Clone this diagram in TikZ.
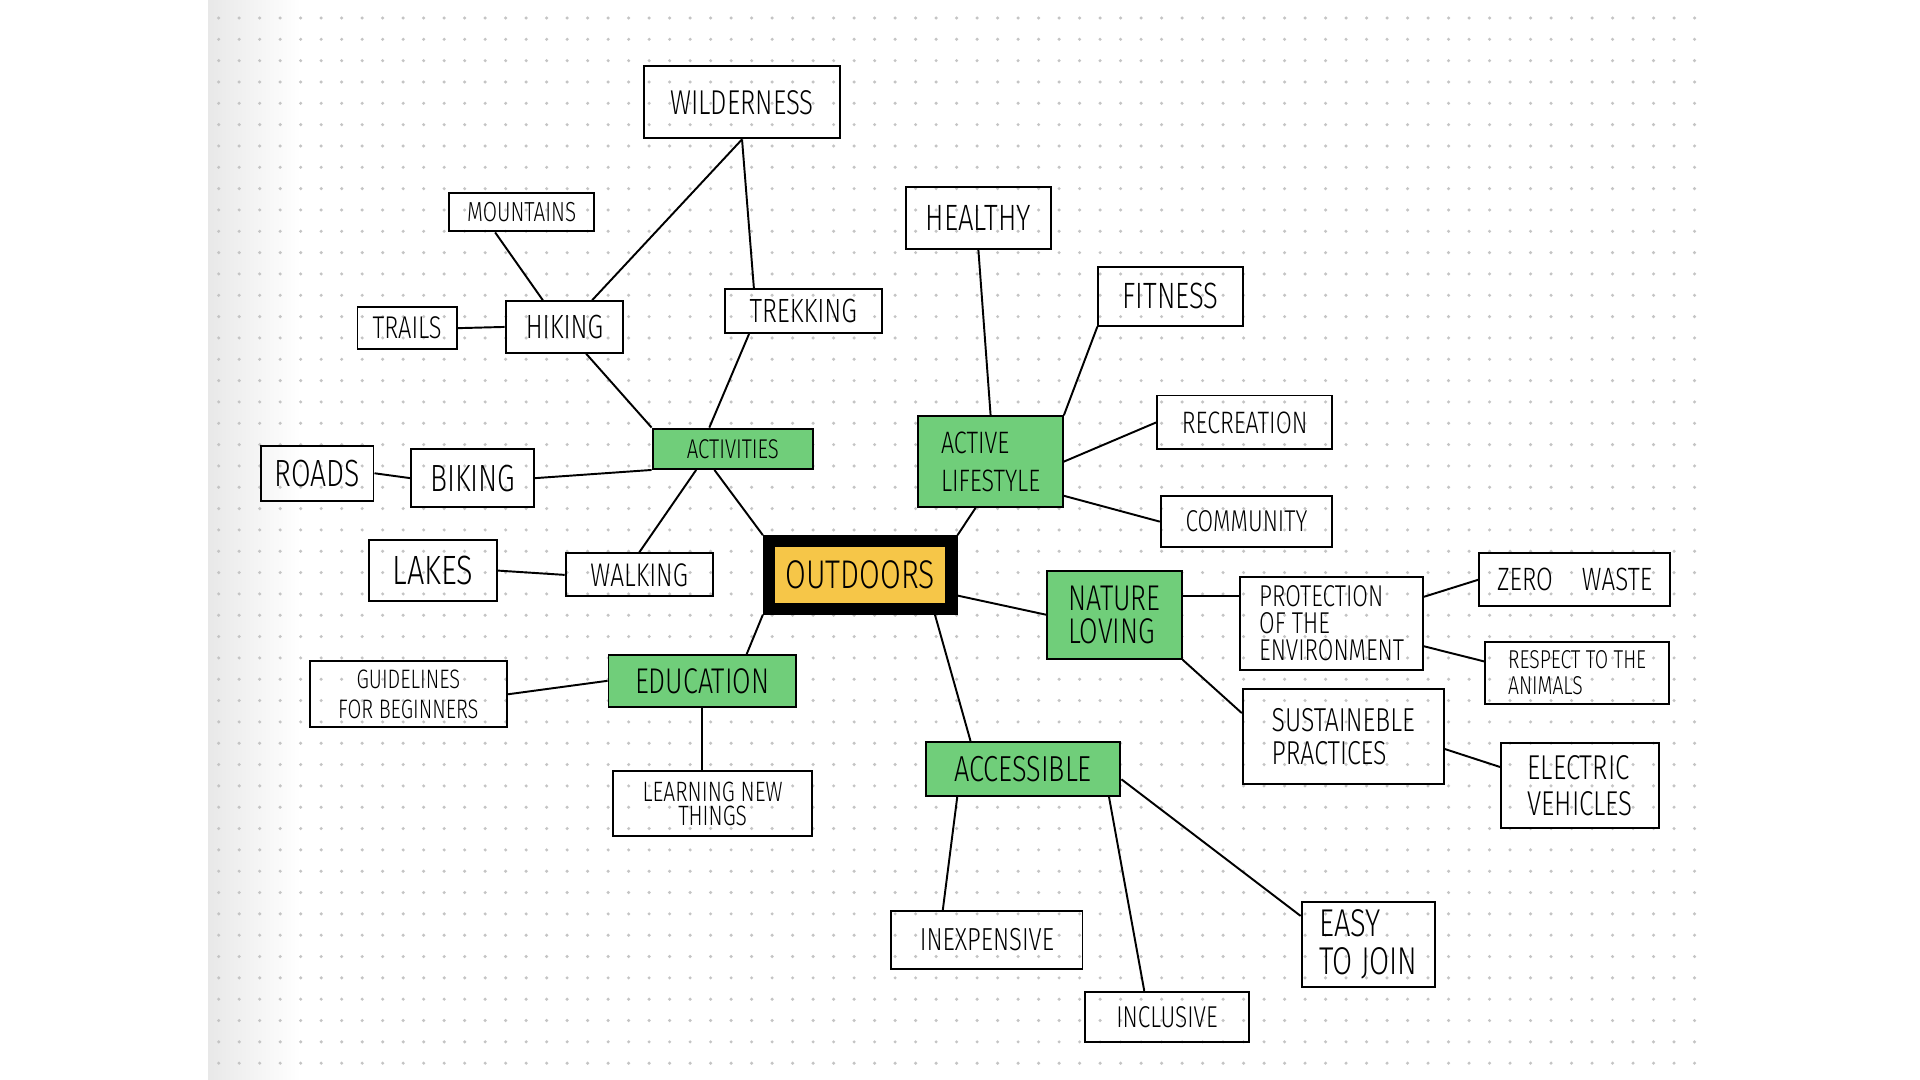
\documentclass[tikz,border=0pt]{standalone}
\usepackage{fontspec}
\usepackage{xcolor}
\usepackage{tikz}
\usetikzlibrary{calc}
\newfontfamily\hand[FakeStretch=0.75, UprightFont=* Light]{Fira Sans}

\definecolor{hlgreen}{RGB}{112,206,122}
\definecolor{hlyellow}{RGB}{246,198,72}
\definecolor{dotgray}{RGB}{196,196,196}

\begin{document}
\begin{tikzpicture}[
    x=0.01cm, y=-0.01cm,
    box/.style={
        rectangle,
        draw,
        line width=0.45pt,
        inner sep=1pt,
        text centered
    },
    hl/.style={fill=hlgreen},
    sz/.style 2 args={minimum width=#1cm, minimum height=#2cm},
    fs/.style 2 args={font=\hand\fontsize{#1}{#2}\selectfont},
    link/.style={line width=0.45pt}
]
\useasboundingbox (0,0) rectangle (1568,882);

% dotted page
\shade[left color=black!9, right color=white] (170,0) rectangle (245,882);
\foreach \i in {0,...,72}
  \foreach \j in {0,...,49}
    \fill[dotgray] (178.6+\i*16.74, 14.7+\j*17.42) circle (1.4);

% centre
\node (outdoors) [box, sz={1.49}{0.55}, fs={9.3}{10}, fill=hlyellow, line width=2.8pt] at (702.5,469.5) {OUTDOORS};

% activities branch
\node (activ) [box, hl, sz={1.31}{0.33}, fs={6.3}{7}] at (598.5,366.5) {ACTIVITIES};
\node (hiking) [box, sz={0.96}{0.42}, fs={7.8}{8}] at (461,267) {HIKING};
\node (trails) [box, sz={0.81}{0.34}, fs={7.3}{8}] at (332.5,268) {TRAILS};
\node (mount) [box, sz={1.18}{0.31}, fs={6.4}{7}] at (426,173.5) {MOUNTAINS};
\node (wild) [box, sz={1.60}{0.59}, fs={8}{9}] at (606,83.5) {WILDERNESS};
\node (trek) [box, sz={1.28}{0.36}, fs={7.8}{8}] at (656,254) {TREKKING};
\node (biking) [box, sz={1.00}{0.47}, fs={8.8}{9}] at (386,390.5) {BIKING};
\node (roads) [box, sz={0.92}{0.45}, fs={8.8}{9}] at (259,386.5) {ROADS};
\node (walking) [box, sz={1.20}{0.35}, fs={7.6}{8}] at (522,469.5) {WALKING};
\node (lakes) [box, sz={1.05}{0.50}, fs={9.5}{10}] at (353.5,466) {LAKES};

% active lifestyle branch
\node (alife) [box, hl, sz={1.18}{0.74}, fs={7.2}{8.8}, align=left] at (809,377) {ACTIVE\\LIFESTYLE};
\node (healthy) [box, sz={1.18}{0.50}, fs={8.5}{9}] at (799,178) {HEALTHY};
\node (fitness) [box, sz={1.18}{0.48}, fs={8.5}{9}] at (956,242) {FITNESS};
\node (recr) [box, sz={1.43}{0.44}, fs={7.2}{8}] at (1016.5,345) {RECREATION};
\node (comm) [box, sz={1.40}{0.42}, fs={7}{8}] at (1018,426) {COMMUNITY};

% nature loving branch
\node (nature) [box, hl, sz={1.10}{0.72}, fs={8.3}{7.7}, align=left] at (910,502) {NATURE\\LOVING};
\node (protect) [box, sz={1.49}{0.76}, fs={7}{6.2}, align=left] at (1087.5,509) {PROTECTION\\OF THE\\ENVIRONMENT};
\node (zero) [box, sz={1.56}{0.43}, fs={7.5}{8}] at (1286,473.5) {ZERO\hspace{0.9em}WASTE};
\node (respect) [box, sz={1.50}{0.51}, fs={6}{6}, align=left] at (1288,549.5) {RESPECT TO THE\\ANIMALS};
\node (sustain) [box, sz={1.64}{0.77}, fs={7.7}{7.7}, align=left] at (1097,601.5) {SUSTAINEBLE\\PRACTICES};
\node (electric) [box, sz={1.29}{0.69}, fs={8}{8.3}, align=left] at (1290.5,641.5) {ELECTRIC\\VEHICLES};

% education branch
\node (educ) [box, hl, sz={1.53}{0.42}, fs={8.3}{9}] at (573.5,556) {EDUCATION};
\node (guide) [box, sz={1.61}{0.54}, fs={6.2}{7.1}, align=center] at (333.5,567) {GUIDELINES\\FOR BEGINNERS};
\node (learn) [box, sz={1.62}{0.53}, fs={6.5}{5.6}, align=center] at (582,656.5) {LEARNING NEW\\THINGS};

% accessible branch
\node (access) [box, hl, sz={1.59}{0.44}, fs={8.4}{9}] at (835.5,628) {ACCESSIBLE};
\node (inexp) [box, sz={1.56}{0.47}, fs={7.4}{8}] at (806,767.5) {INEXPENSIVE};
\node (incl) [box, sz={1.34}{0.41}, fs={7}{8}] at (953,830.5) {INCLUSIVE};
\node (easy) [box, sz={1.09}{0.69}, fs={9}{8.8}, align=left] at (1117.5,771.5) {EASY\\TO JOIN};

% links
\draw [link] (wild.south) -- (hiking.44);
\draw [link] (wild.south) -- (trek.155);
\draw [link] (mount.217) -- (hiking.129);
\draw [link] (trails.east) -- (hiking.west);
\draw [link] (hiking.-51) -- (activ.north west);
\draw [link] (trek.203) -- (activ.138);
\draw [link] (biking.east) -- (activ.south west);
\draw [link] (roads.east) -- (biking.west);
\draw [link] (activ.-150) -- (walking.north);
\draw [link] (lakes.east) -- (walking.west);
\draw [link] (activ.-131) -- (outdoors.north west);

\draw [link] (healthy.south) -- (alife.north);
\draw [link] (fitness.south west) -- (alife.north east);
\draw [link] (recr.west) -- (alife.east);
\draw [link] (comm.west) -- (alife.-25);
\draw [link] (alife.-108) -- (outdoors.north east);

\draw [link] (outdoors.-12) -- (nature.west);
\draw [link] (nature.15) -- (nature.15 -| protect.west);
\draw [link] (nature.south east) -- (sustain.167);
\draw [link] (protect.16) -- (zero.west);
\draw [link] (protect.-14) -- (respect.173);
\draw [link] (sustain.-7) -- (electric.167);

\draw [link] (outdoors.south west) -- (educ.31);
\draw [link] (guide.east) -- (educ.west);
\draw [link] (educ.south) -- (educ.south |- learn.north);

\draw [link] (outdoors.-28) -- (access.152);
\draw [link] (access.-157) -- (inexp.146);
\draw [link] (access.-18) -- (incl.131);
\draw [link] (access.-6.5) -- (easy.157);

\end{tikzpicture}
\end{document}
